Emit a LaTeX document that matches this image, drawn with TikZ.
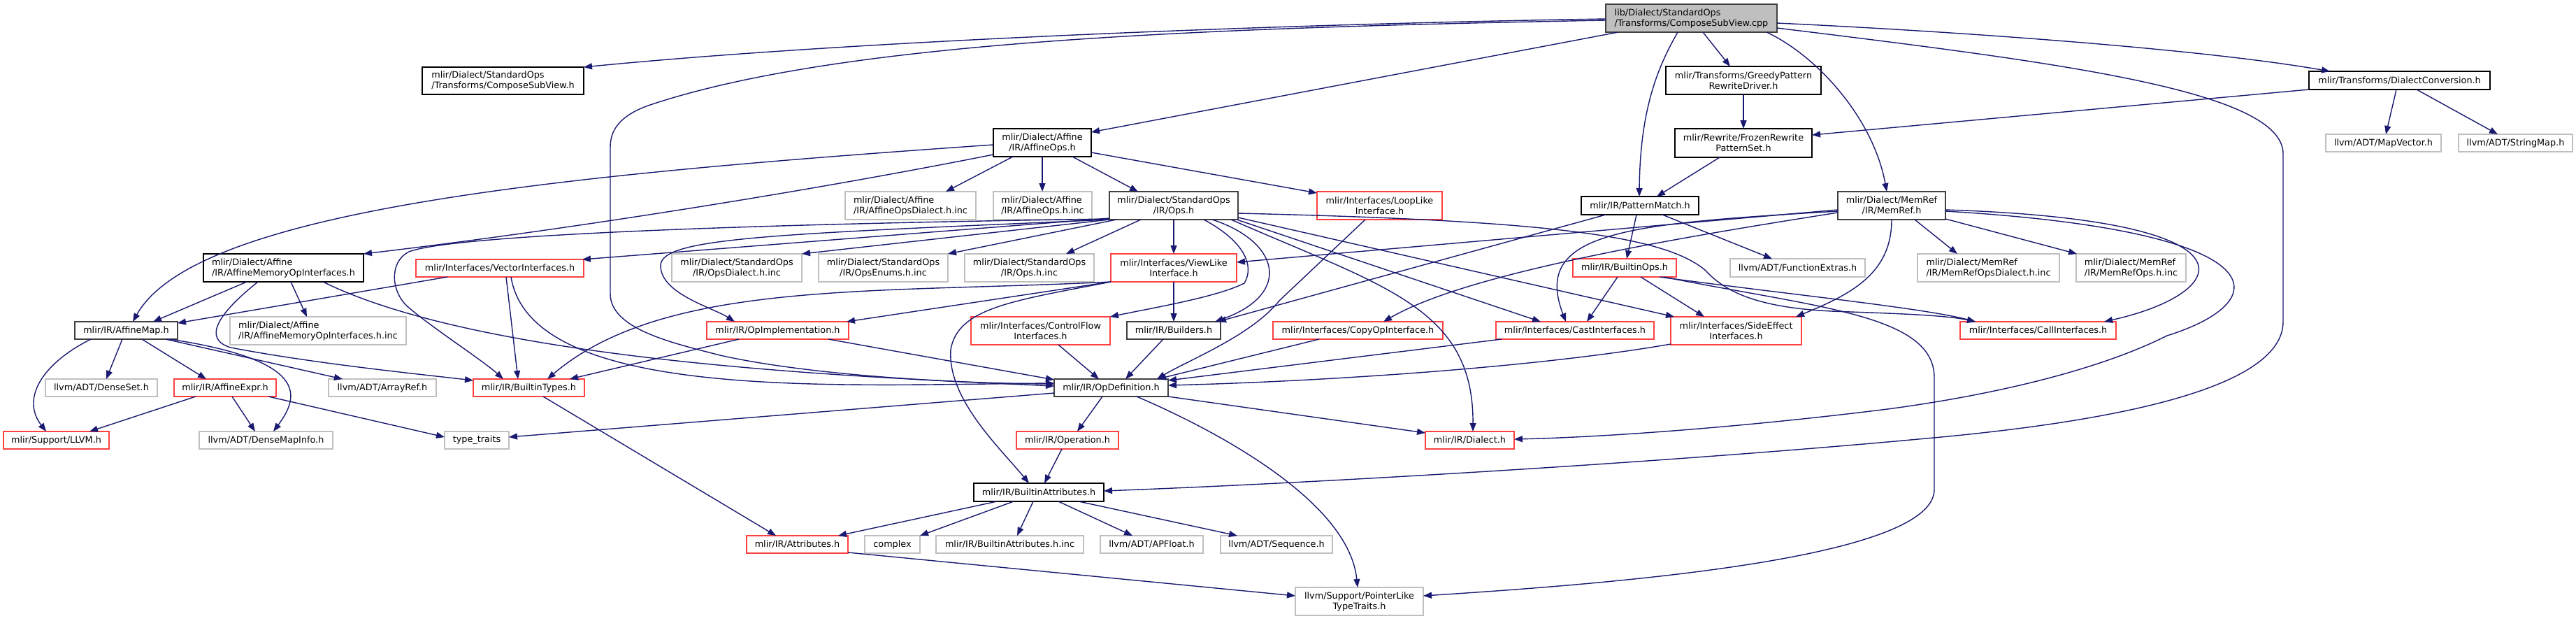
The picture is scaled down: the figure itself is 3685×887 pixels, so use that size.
\documentclass[tikz,border=0pt]{standalone}
\usepackage{fontspec}
\setmainfont{DejaVu Sans}
\usetikzlibrary{arrows.meta,calc}
\definecolor{edgec}{rgb}{0.098,0.098,0.439}
\definecolor{dkg}{gray}{0.25}
\definecolor{ltg}{gray}{0.75}
\definecolor{rdc}{rgb}{1,0.25,0.25}
\definecolor{rootfill}{gray}{0.75}
\newcommand{\dxfont}{\fontsize{12.8pt}{15pt}\selectfont}
\tikzset{
  nb/.style={draw, rectangle, inner sep=0pt, outer sep=0pt, line width=1.6pt, fill=white, anchor=north west, font=\dxfont},
  bk/.style={nb, draw=black},
  dg/.style={nb, draw=dkg},
  gy/.style={nb, draw=ltg},
  rd/.style={nb, draw=rdc},
  cl/.style={align=center},
  ll/.style={align=left},
  conn/.style={draw=edgec, line width=1.4pt, -{Triangle[length=12pt,width=9pt]}},
}
\begin{document}
\begin{tikzpicture}[x=1pt,y=-1pt]
\useasboundingbox (0,0) rectangle (3685,887);
% ---------- nodes ----------
\node[nb,ll,draw=dkg,fill=rootfill,minimum width=245pt,minimum height=40pt] (root) at (2297,6) {lib/Dialect/StandardOps\\/Transforms/ComposeSubView.cpp};
\node[bk,ll,minimum width=231pt,minimum height=39pt] (csvh) at (604,96) {mlir/Dialect/StandardOps\\/Transforms/ComposeSubView.h};
\node[bk,cl,minimum width=222pt,minimum height=40pt] (greedy) at (2383,95) {mlir/Transforms/GreedyPattern\\RewriteDriver.h};
\node[bk,minimum width=259pt,minimum height=26pt] (dconv) at (3303,102) {mlir/Transforms/DialectConversion.h};
\node[bk,cl,minimum width=140pt,minimum height=40pt] (affops) at (1421,184) {mlir/Dialect/Affine\\/IR/AffineOps.h};
\node[bk,cl,minimum width=196pt,minimum height=41pt] (frozen) at (2396,184) {mlir/Rewrite/FrozenRewrite\\PatternSet.h};
\node[gy,minimum width=165pt,minimum height=25pt] (mapvec) at (3327,192) {llvm/ADT/MapVector.h};
\node[gy,minimum width=163pt,minimum height=25pt] (strmap) at (3517,192) {llvm/ADT/StringMap.h};
\node[gy,ll,minimum width=187pt,minimum height=40pt] (affdialinc) at (1209,274) {mlir/Dialect/Affine\\/IR/AffineOpsDialect.h.inc};
\node[gy,ll,minimum width=141pt,minimum height=40pt] (affopsinc) at (1421,274) {mlir/Dialect/Affine\\/IR/AffineOps.h.inc};
\node[dg,cl,minimum width=184pt,minimum height=40pt] (opsh) at (1587,274) {mlir/Dialect/StandardOps\\/IR/Ops.h};
\node[rd,cl,minimum width=179pt,minimum height=40pt] (looplike) at (1884,274) {mlir/Interfaces/LoopLike\\Interface.h};
\node[bk,minimum width=168pt,minimum height=26pt] (patmatch) at (2262,281) {mlir/IR/PatternMatch.h};
\node[dg,cl,minimum width=154pt,minimum height=40pt] (memref) at (2629,274) {mlir/Dialect/MemRef\\/IR/MemRef.h};
\node[bk,ll,minimum width=229pt,minimum height=40pt] (affmemif) at (291,363) {mlir/Dialect/Affine\\/IR/AffineMemoryOpInterfaces.h};
\node[rd,minimum width=240pt,minimum height=25pt] (vecif) at (595,371) {mlir/Interfaces/VectorInterfaces.h};
\node[gy,cl,minimum width=186pt,minimum height=40pt] (opsdialinc) at (961,363) {mlir/Dialect/StandardOps\\/IR/OpsDialect.h.inc};
\node[gy,cl,minimum width=185pt,minimum height=40pt] (opsenuminc) at (1171,363) {mlir/Dialect/StandardOps\\/IR/OpsEnums.h.inc};
\node[gy,cl,minimum width=185pt,minimum height=40pt] (opsinc) at (1380,363) {mlir/Dialect/StandardOps\\/IR/Ops.h.inc};
\node[rd,cl,minimum width=180pt,minimum height=40pt] (viewlike) at (1589,363) {mlir/Interfaces/ViewLike\\Interface.h};
\node[rd,minimum width=148pt,minimum height=26pt] (builtinops) at (2250,370) {mlir/IR/BuiltinOps.h};
\node[gy,minimum width=193pt,minimum height=26pt] (funcext) at (2475,370) {llvm/ADT/FunctionExtras.h};
\node[gy,ll,minimum width=203pt,minimum height=40pt] (memrefdialinc) at (2743,363) {mlir/Dialect/MemRef\\/IR/MemRefOpsDialect.h.inc};
\node[gy,ll,minimum width=157pt,minimum height=40pt] (memrefopsinc) at (2970,363) {mlir/Dialect/MemRef\\/IR/MemRefOps.h.inc};
\node[dg,minimum width=147pt,minimum height=25pt] (affmap) at (107,460) {mlir/IR/AffineMap.h};
\node[gy,ll,minimum width=252pt,minimum height=40pt] (affmemifinc) at (329,453) {mlir/Dialect/Affine\\/IR/AffineMemoryOpInterfaces.h.inc};
\node[rd,minimum width=203pt,minimum height=25pt] (opimpl) at (1011,460) {mlir/IR/OpImplementation.h};
\node[rd,cl,minimum width=199pt,minimum height=40pt] (ctrlflow) at (1389,453) {mlir/Interfaces/ControlFlow\\Interfaces.h};
\node[dg,minimum width=134pt,minimum height=25pt] (builders) at (1612,460) {mlir/IR/Builders.h};
\node[rd,minimum width=243pt,minimum height=25pt] (copyop) at (1821,460) {mlir/Interfaces/CopyOpInterface.h};
\node[rd,minimum width=226pt,minimum height=25pt] (castif) at (2140,460) {mlir/Interfaces/CastInterfaces.h};
\node[rd,cl,minimum width=187pt,minimum height=40pt] (sideeff) at (2390,453) {mlir/Interfaces/SideEffect\\Interfaces.h};
\node[rd,minimum width=223pt,minimum height=25pt] (callif) at (2804,460) {mlir/Interfaces/CallInterfaces.h};
\node[gy,minimum width=160pt,minimum height=25pt] (denseset) at (65,542) {llvm/ADT/DenseSet.h};
\node[rd,minimum width=146pt,minimum height=25pt] (affexpr) at (249,542) {mlir/IR/AffineExpr.h};
\node[gy,minimum width=154pt,minimum height=25pt] (arrayref) at (470,542) {llvm/ADT/ArrayRef.h};
\node[rd,minimum width=159pt,minimum height=25pt] (builtintypes) at (677,542) {mlir/IR/BuiltinTypes.h};
\node[dg,minimum width=163pt,minimum height=25pt] (opdef) at (1508,542) {mlir/IR/OpDefinition.h};
\node[rd,minimum width=151pt,minimum height=25pt] (llvmh) at (5,617) {mlir/Support/LLVM.h};
\node[gy,minimum width=191pt,minimum height=25pt] (densemapinfo) at (285,617) {llvm/ADT/DenseMapInfo.h};
\node[gy,minimum width=92pt,minimum height=25pt] (typetraits) at (636,617) {type\_traits};
\node[rd,minimum width=146pt,minimum height=25pt] (operation) at (1454,617) {mlir/IR/Operation.h};
\node[rd,minimum width=127pt,minimum height=25pt] (dialect) at (2039,617) {mlir/IR/Dialect.h};
\node[bk,minimum width=186pt,minimum height=26pt] (battr) at (1393,691) {mlir/IR/BuiltinAttributes.h};
\node[rd,minimum width=145pt,minimum height=25pt] (attrs) at (1068,766) {mlir/IR/Attributes.h};
\node[gy,minimum width=79pt,minimum height=25pt] (complex) at (1237,766) {complex};
\node[gy,minimum width=211pt,minimum height=25pt] (battrinc) at (1339,766) {mlir/IR/BuiltinAttributes.h.inc};
\node[gy,minimum width=147pt,minimum height=25pt] (apfloat) at (1574,766) {llvm/ADT/APFloat.h};
\node[gy,minimum width=160pt,minimum height=25pt] (sequence) at (1746,766) {llvm/ADT/Sequence.h};
\node[gy,cl,minimum width=183pt,minimum height=40pt] (ptrlike) at (1853,840) {llvm/Support/PointerLike\\TypeTraits.h};
% ---------- edges ----------
% root
\draw[conn] ($(root.north west)+(0,21)$) .. controls (1800,35) and (1200,60) .. ($(csvh.north west)+(231,0)$);
\draw[conn] ($(root.north west)+(0,23)$) .. controls (1700,40) and (1200,60) .. (930,150) .. controls (895,162) and (873,180) .. (873,210) -- (873,420) .. controls (873,470) and (960,490) .. (1030,508) .. controls (1150,535) and (1350,548) .. ($(opdef.north west)+(0,7)$);
\draw[conn] ($(root.north west)+(18,40)$) -- ($(affops.north west)+(140,5)$);
\draw[conn] ($(root.north west)+(139,40)$) -- ($(greedy.north west)+(92,0)$);
\draw[conn] ($(root.north west)+(103,40)$) .. controls (2375,90) and (2346,150) .. ($(patmatch.north west)+(83,0)$);
\draw[conn] ($(root.north west)+(230,40)$) .. controls (2600,80) and (2680,170) .. ($(memref.north west)+(70,0)$);
\draw[conn] ($(root.north west)+(245,27)$) .. controls (2800,45) and (3150,70) .. ($(dconv.north west)+(30,0)$);
\draw[conn] ($(root.north west)+(245,34)$) .. controls (2950,90) and (3266,130) .. (3266,220) -- (3266,460) .. controls (3266,560) and (3000,605) .. (2755,627) .. controls (2400,660) and (1900,690) .. ($(battr.north west)+(186,11)$);
% greedy, dconv, frozen
\draw[conn] ($(greedy.north west)+(111,40)$) -- ($(frozen.north west)+(98,0)$);
\draw[conn] ($(dconv.north west)+(0,26)$) -- ($(frozen.north west)+(196,9)$);
\draw[conn] ($(dconv.north west)+(125,26)$) -- ($(mapvec.north west)+(86,0)$);
\draw[conn] ($(dconv.north west)+(154,26)$) -- ($(strmap.north west)+(56,0)$);
\draw[conn] ($(frozen.north west)+(64,41)$) -- ($(patmatch.north west)+(108,0)$);
% patmatch
\draw[conn] ($(patmatch.north west)+(79,26)$) -- ($(builtinops.north west)+(77,0)$);
\draw[conn] ($(patmatch.north west)+(116,26)$) -- ($(funcext.north west)+(60,0)$);
\draw[conn] ($(patmatch.north west)+(35,26)$) -- ($(builders.north west)+(130,0)$);
% affops
\draw[conn] ($(affops.north west)+(0,23)$) .. controls (800,250) and (280,300) .. ($(affmap.north west)+(83,0)$);
\draw[conn] ($(affops.north west)+(0,37)$) .. controls (1150,275) and (800,330) .. ($(affmemif.north west)+(229,0)$);
\draw[conn] ($(affops.north west)+(28,40)$) -- ($(affdialinc.north west)+(144,0)$);
\draw[conn] ($(affops.north west)+(70,40)$) -- ($(affopsinc.north west)+(70,0)$);
\draw[conn] ($(affops.north west)+(113,40)$) -- ($(opsh.north west)+(41,0)$);
\draw[conn] ($(affops.north west)+(140,34)$) -- ($(looplike.north west)+(0,2)$);
% opsh
\draw[conn] ($(opsh.north west)+(0,40)$) -- ($(opsdialinc.north west)+(186,0)$);
\draw[conn] ($(opsh.north west)+(10,40)$) -- ($(opsenuminc.north west)+(185,0)$);
\draw[conn] ($(opsh.north west)+(45,40)$) -- ($(opsinc.north west)+(145,0)$);
\draw[conn] ($(opsh.north west)+(92,40)$) -- ($(viewlike.north west)+(90,0)$);
\draw[conn] ($(opsh.north west)+(0,38)$) -- ($(vecif.north west)+(238,0)$);
\draw[conn] ($(opsh.north west)+(0,39)$) .. controls (1100,320) and (650,335) .. (585,360) .. controls (555,375) and (560,420) .. (585,440) .. controls (620,470) and (690,515) .. ($(builtintypes.north west)+(43,0)$);
\draw[conn] ($(opsh.north west)+(0,40)$) .. controls (1100,335) and (945,340) .. (945,380) .. controls (945,420) and (1020,440) .. ($(opimpl.north west)+(40,0)$);
\draw[conn] ($(opsh.north west)+(135,40)$) .. controls (1780,345) and (1795,380) .. (1780,405) .. controls (1740,425) and (1650,440) .. ($(ctrlflow.north west)+(199,0)$);
\draw[conn] ($(opsh.north west)+(147,40)$) .. controls (1830,345) and (1850,420) .. ($(builders.north west)+(126,0)$);
\draw[conn] ($(opsh.north west)+(174,40)$) .. controls (1980,410) and (2108,440) .. ($(dialect.north west)+(68,0)$);
\draw[conn] ($(opsh.north west)+(182,40)$) -- ($(castif.north west)+(64,0)$);
\draw[conn] ($(opsh.north west)+(184,37)$) -- ($(sideeff.north west)+(5,0)$);
\draw[conn] ($(opsh.north west)+(184,31)$) .. controls (2200,315) and (2380,335) .. (2440,387) .. controls (2470,420) and (2520,440) .. (2620,445) .. controls (2700,448) and (2780,450) .. ($(callif.north west)+(22,0)$);
% builtinops
\draw[conn] ($(builtinops.north west)+(124,26)$) .. controls (2550,420) and (2750,440) .. ($(callif.north west)+(22,0)$);
\draw[conn] ($(builtinops.north west)+(130,26)$) .. controls (2600,440) and (2767,450) .. (2767,540) -- (2767,700) .. controls (2767,800) and (2300,835) .. ($(ptrlike.north west)+(183,12)$);
\draw[conn] ($(builtinops.north west)+(64,26)$) -- ($(castif.north west)+(130,0)$);
\draw[conn] ($(builtinops.north west)+(97,26)$) -- ($(sideeff.north west)+(48,0)$);
% memref
\draw[conn] ($(memref.north west)+(0,26)$) -- ($(viewlike.north west)+(180,12)$);
\draw[conn] ($(memref.north west)+(0,30)$) .. controls (2400,340) and (2100,390) .. ($(copyop.north west)+(158,0)$);
\draw[conn] ($(memref.north west)+(0,28)$) .. controls (2330,320) and (2190,330) .. ($(castif.north west)+(100,0)$);
\draw[conn] ($(memref.north west)+(77,40)$) .. controls (2706,390) and (2650,420) .. ($(sideeff.north west)+(179,0)$);
\draw[conn] ($(memref.north west)+(110,40)$) -- ($(memrefdialinc.north west)+(57,0)$);
\draw[conn] ($(memref.north west)+(154,39)$) -- ($(memrefopsinc.north west)+(1,0)$);
\draw[conn] ($(memref.north west)+(154,26)$) .. controls (3250,315) and (3190,420) .. ($(callif.north west)+(206,0)$);
\draw[conn] ($(memref.north west)+(154,28)$) .. controls (3260,330) and (3260,430) .. (3100,480) .. controls (3000,530) and (2850,565) .. (2700,585) .. controls (2500,610) and (2300,625) .. ($(dialect.north west)+(127,11)$);
% looplike
\draw[conn] ($(looplike.north west)+(69,40)$) -- (1830,430) .. controls (1790,480) and (1700,515) .. ($(opdef.north west)+(147,0)$);
% viewlike
\draw[conn] ($(viewlike.north west)+(90,40)$) -- ($(builders.north west)+(67,0)$);
\draw[conn] ($(viewlike.north west)+(0,40)$) -- ($(opimpl.north west)+(200,0)$);
\draw[conn] ($(viewlike.north west)+(0,40)$) .. controls (1250,420) and (950,400) .. ($(builtintypes.north west)+(106,0)$);
\draw[conn] ($(viewlike.north west)+(0,40)$) .. controls (1450,430) and (1370,440) .. (1360,500) .. controls (1355,570) and (1430,640) .. ($(battr.north west)+(79,0)$);
% vecif
\draw[conn] ($(vecif.north west)+(129,25)$) -- ($(builtintypes.north west)+(64,0)$);
\draw[conn] ($(vecif.north west)+(136,25)$) .. controls (760,575) and (1200,550) .. ($(opdef.north west)+(0,6)$);
\draw[conn] ($(vecif.north west)+(45,25)$) -- ($(affmap.north west)+(147,2)$);
% affmemif
\draw[conn] ($(affmemif.north west)+(62,40)$) -- ($(affmap.north west)+(112,0)$);
\draw[conn] ($(affmemif.north west)+(125,40)$) -- ($(affmemifinc.north west)+(110,0)$);
\draw[conn] ($(affmemif.north west)+(78,40)$) .. controls (310,450) and (290,485) .. (330,497) .. controls (450,520) and (600,535) .. ($(builtintypes.north west)+(0,2)$);
\draw[conn] ($(affmemif.north west)+(171,40)$) .. controls (700,520) and (1250,540) .. ($(opdef.north west)+(0,10)$);
% affmap
\draw[conn] ($(affmap.north west)+(23,25)$) .. controls (60,520) and (30,570) .. ($(llvmh.north west)+(61,0)$);
\draw[conn] ($(affmap.north west)+(68,25)$) -- ($(denseset.north west)+(87,0)$);
\draw[conn] ($(affmap.north west)+(96,25)$) -- ($(affexpr.north west)+(46,0)$);
\draw[conn] ($(affmap.north west)+(130,25)$) -- ($(arrayref.north west)+(20,0)$);
\draw[conn] ($(affmap.north west)+(136,25)$) .. controls (440,515) and (430,565) .. ($(densemapinfo.north west)+(106,0)$);
% affexpr
\draw[conn] ($(affexpr.north west)+(31,25)$) -- ($(llvmh.north west)+(123,0)$);
\draw[conn] ($(affexpr.north west)+(83,25)$) -- ($(densemapinfo.north west)+(80,0)$);
\draw[conn] ($(affexpr.north west)+(135,25)$) -- ($(typetraits.north west)+(0,8)$);
% builtintypes
\draw[conn] ($(builtintypes.north west)+(100,25)$) -- ($(attrs.north west)+(42,0)$);
% opimpl
\draw[conn] ($(opimpl.north west)+(46,25)$) -- ($(builtintypes.north west)+(138,0)$);
\draw[conn] ($(opimpl.north west)+(174,25)$) -- ($(opdef.north west)+(0,1)$);
% into opdef
\draw[conn] ($(ctrlflow.north west)+(125,40)$) -- ($(opdef.north west)+(64,0)$);
\draw[conn] ($(builders.north west)+(52,25)$) -- ($(opdef.north west)+(102,0)$);
\draw[conn] ($(copyop.north west)+(66,25)$) -- ($(opdef.north west)+(148,0)$);
\draw[conn] ($(castif.north west)+(8,25)$) -- ($(opdef.north west)+(163,2)$);
\draw[conn] ($(sideeff.north west)+(0,39)$) .. controls (2200,525) and (1900,545) .. ($(opdef.north west)+(163,9)$);
% opdef
\draw[conn] ($(opdef.north west)+(0,20)$) -- ($(typetraits.north west)+(92,8)$);
\draw[conn] ($(opdef.north west)+(69,25)$) -- ($(operation.north west)+(87,0)$);
\draw[conn] ($(opdef.north west)+(163,25)$) -- ($(dialect.north west)+(0,2)$);
\draw[conn] ($(opdef.north west)+(118,25)$) .. controls (1750,620) and (1930,720) .. ($(ptrlike.north west)+(89,0)$);
% operation
\draw[conn] ($(operation.north west)+(65,25)$) -- ($(battr.north west)+(101,0)$);
% battr
\draw[conn] ($(battr.north west)+(33,26)$) -- ($(attrs.north west)+(131,0)$);
\draw[conn] ($(battr.north west)+(57,26)$) -- ($(complex.north west)+(79,0)$);
\draw[conn] ($(battr.north west)+(85,26)$) -- ($(battrinc.north west)+(116,0)$);
\draw[conn] ($(battr.north west)+(121,26)$) -- ($(apfloat.north west)+(46,0)$);
\draw[conn] ($(battr.north west)+(150,26)$) -- ($(sequence.north west)+(24,0)$);
% attrs
\draw[conn] ($(attrs.north west)+(145,24)$) -- ($(ptrlike.north west)+(0,12)$);
\end{tikzpicture}
\end{document}
